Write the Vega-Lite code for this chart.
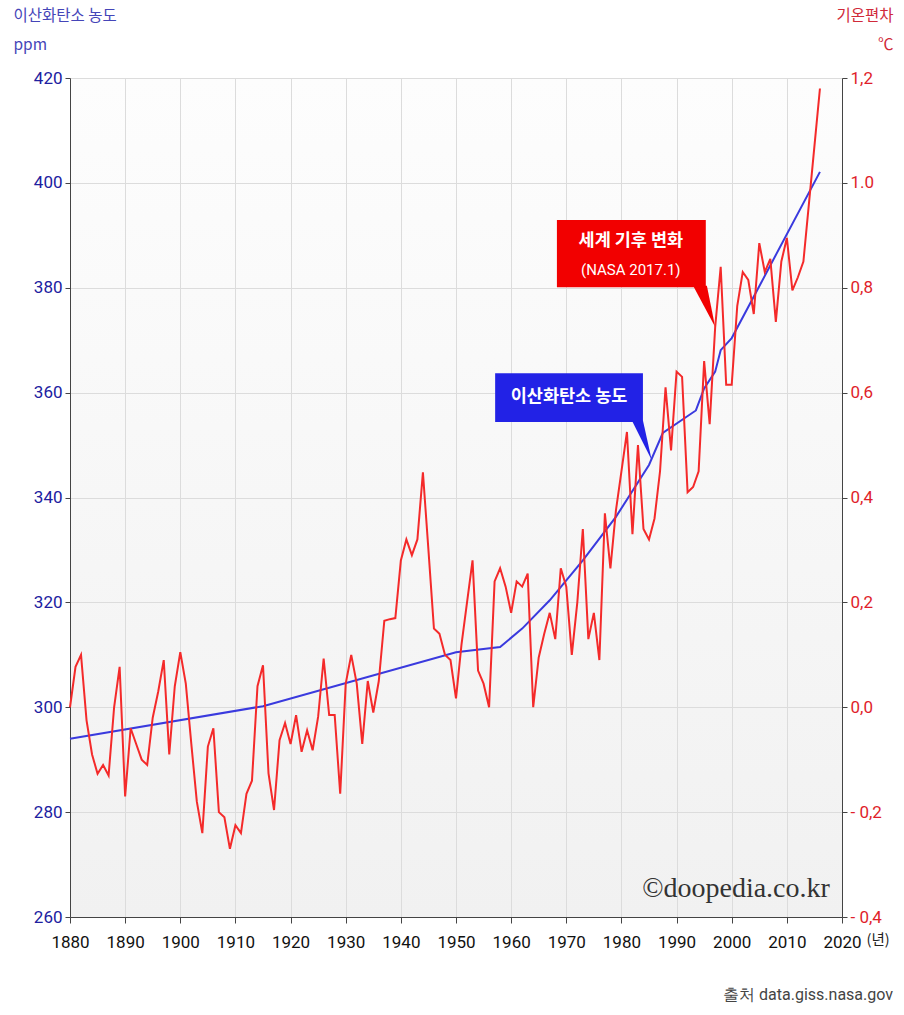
{
  "$schema": "https://vega.github.io/schema/vega-lite/v6.json",
  "autosize": {"type": "none"},
  "padding": {"left": 70, "top": 78, "right": 62, "bottom": 98},
  "width": 772,
  "height": 839,
  "background": "#ffffff",
  "view": {"stroke": null, "fill": {"gradient": "linear", "x1": 0, "y1": 0, "x2": 0, "y2": 1, "stops": [{"offset": 0, "color": "#fdfdfd"}, {"offset": 1, "color": "#f1f1f1"}]}},
  "datasets": {
    "temp": [
      {"year": 1880, "anom": 0.0}, {"year": 1881, "anom": 0.077}, {"year": 1882, "anom": 0.10}, {"year": 1883, "anom": -0.025},
      {"year": 1884, "anom": -0.09}, {"year": 1885, "anom": -0.127}, {"year": 1886, "anom": -0.11}, {"year": 1887, "anom": -0.13},
      {"year": 1888, "anom": 0.0}, {"year": 1889, "anom": 0.077}, {"year": 1890, "anom": -0.17}, {"year": 1891, "anom": -0.04},
      {"year": 1892, "anom": -0.07}, {"year": 1893, "anom": -0.10}, {"year": 1894, "anom": -0.11}, {"year": 1895, "anom": -0.02},
      {"year": 1896, "anom": 0.03}, {"year": 1897, "anom": 0.09}, {"year": 1898, "anom": -0.09}, {"year": 1899, "anom": 0.04},
      {"year": 1900, "anom": 0.105}, {"year": 1901, "anom": 0.045}, {"year": 1902, "anom": -0.07}, {"year": 1903, "anom": -0.18},
      {"year": 1904, "anom": -0.24}, {"year": 1905, "anom": -0.075}, {"year": 1906, "anom": -0.04}, {"year": 1907, "anom": -0.2},
      {"year": 1908, "anom": -0.21}, {"year": 1909, "anom": -0.27}, {"year": 1910, "anom": -0.225}, {"year": 1911, "anom": -0.24},
      {"year": 1912, "anom": -0.165}, {"year": 1913, "anom": -0.14}, {"year": 1914, "anom": 0.04}, {"year": 1915, "anom": 0.08},
      {"year": 1916, "anom": -0.126}, {"year": 1917, "anom": -0.196}, {"year": 1918, "anom": -0.063}, {"year": 1919, "anom": -0.03},
      {"year": 1920, "anom": -0.07}, {"year": 1921, "anom": -0.015}, {"year": 1922, "anom": -0.085}, {"year": 1923, "anom": -0.044},
      {"year": 1924, "anom": -0.082}, {"year": 1925, "anom": -0.018}, {"year": 1926, "anom": 0.093}, {"year": 1927, "anom": -0.015},
      {"year": 1928, "anom": -0.015}, {"year": 1929, "anom": -0.165}, {"year": 1930, "anom": 0.045}, {"year": 1931, "anom": 0.10},
      {"year": 1932, "anom": 0.045}, {"year": 1933, "anom": -0.07}, {"year": 1934, "anom": 0.05}, {"year": 1935, "anom": -0.01},
      {"year": 1936, "anom": 0.05}, {"year": 1937, "anom": 0.165}, {"year": 1938, "anom": 0.168}, {"year": 1939, "anom": 0.17},
      {"year": 1940, "anom": 0.28}, {"year": 1941, "anom": 0.32}, {"year": 1942, "anom": 0.29}, {"year": 1943, "anom": 0.32},
      {"year": 1944, "anom": 0.448}, {"year": 1945, "anom": 0.3}, {"year": 1946, "anom": 0.15}, {"year": 1947, "anom": 0.14},
      {"year": 1948, "anom": 0.10}, {"year": 1949, "anom": 0.09}, {"year": 1950, "anom": 0.017}, {"year": 1951, "anom": 0.12},
      {"year": 1952, "anom": 0.2}, {"year": 1953, "anom": 0.28}, {"year": 1954, "anom": 0.07}, {"year": 1955, "anom": 0.045},
      {"year": 1956, "anom": 0.0}, {"year": 1957, "anom": 0.24}, {"year": 1958, "anom": 0.265}, {"year": 1959, "anom": 0.23},
      {"year": 1960, "anom": 0.18}, {"year": 1961, "anom": 0.24}, {"year": 1962, "anom": 0.23}, {"year": 1963, "anom": 0.255},
      {"year": 1964, "anom": 0.0}, {"year": 1965, "anom": 0.095}, {"year": 1966, "anom": 0.14}, {"year": 1967, "anom": 0.18},
      {"year": 1968, "anom": 0.13}, {"year": 1969, "anom": 0.265}, {"year": 1970, "anom": 0.23}, {"year": 1971, "anom": 0.10},
      {"year": 1972, "anom": 0.20}, {"year": 1973, "anom": 0.34}, {"year": 1974, "anom": 0.13}, {"year": 1975, "anom": 0.18},
      {"year": 1976, "anom": 0.09}, {"year": 1977, "anom": 0.37}, {"year": 1978, "anom": 0.265}, {"year": 1979, "anom": 0.375},
      {"year": 1980, "anom": 0.45}, {"year": 1981, "anom": 0.525}, {"year": 1982, "anom": 0.33}, {"year": 1983, "anom": 0.5},
      {"year": 1984, "anom": 0.34}, {"year": 1985, "anom": 0.32}, {"year": 1986, "anom": 0.36}, {"year": 1987, "anom": 0.45},
      {"year": 1988, "anom": 0.61}, {"year": 1989, "anom": 0.49}, {"year": 1990, "anom": 0.64}, {"year": 1991, "anom": 0.63},
      {"year": 1992, "anom": 0.41}, {"year": 1993, "anom": 0.42}, {"year": 1994, "anom": 0.45}, {"year": 1995, "anom": 0.66},
      {"year": 1996, "anom": 0.54}, {"year": 1997, "anom": 0.725}, {"year": 1998, "anom": 0.84}, {"year": 1999, "anom": 0.615},
      {"year": 2000, "anom": 0.615}, {"year": 2001, "anom": 0.765}, {"year": 2002, "anom": 0.83}, {"year": 2003, "anom": 0.815},
      {"year": 2004, "anom": 0.75}, {"year": 2005, "anom": 0.885}, {"year": 2006, "anom": 0.83}, {"year": 2007, "anom": 0.855},
      {"year": 2008, "anom": 0.735}, {"year": 2009, "anom": 0.85}, {"year": 2010, "anom": 0.895}, {"year": 2011, "anom": 0.795},
      {"year": 2012, "anom": 0.82}, {"year": 2013, "anom": 0.85}, {"year": 2014, "anom": 0.96}, {"year": 2015, "anom": 1.07},
      {"year": 2016, "anom": 1.18}
    ],
    "co2": [
      {"year": 1880, "ppm": 294.0}, {"year": 1915, "ppm": 300.2}, {"year": 1950, "ppm": 310.5}, {"year": 1958, "ppm": 311.5},
      {"year": 1962, "ppm": 315.0}, {"year": 1967, "ppm": 320.4}, {"year": 1973, "ppm": 328.0}, {"year": 1979, "ppm": 336.3},
      {"year": 1985, "ppm": 346.2}, {"year": 1987.5, "ppm": 352.3}, {"year": 1993.5, "ppm": 356.6}, {"year": 1995, "ppm": 360.8},
      {"year": 1997, "ppm": 364.0}, {"year": 1998, "ppm": 368.1}, {"year": 2000, "ppm": 370.4}, {"year": 2016, "ppm": 402.1}
    ],
    "boxes": [
      {"year": 1968.3, "year2": 1995.3, "ppm": 392.9, "ppm2": 380.1, "kind": "red"},
      {"year": 1957.1, "year2": 1983.9, "ppm": 363.7, "ppm2": 354.4, "kind": "blue"}
    ],
    "redTail": [
      {"ppm": 380.4, "year": 1993.0, "year2": 1995.5},
      {"ppm": 372.5, "year": 1997.0, "year2": 1997.0}
    ],
    "blueTail": [
      {"ppm": 354.7, "year": 1981.9, "year2": 1983.9},
      {"ppm": 347.1, "year": 1985.5, "year2": 1985.5}
    ],
    "boxTitles": [
      {"year": 1981.7, "ppm": 389.0, "label": "세계 기후 변화"},
      {"year": 1970.5, "ppm": 359.1, "label": "이산화탄소 농도"}
    ],
    "boxSub": [
      {"year": 1981.7, "ppm": 383.4, "label": "(NASA  2017.1)"}
    ],
    "marks": [
      {"year": 2017.8, "ppm": 263.8, "label": "©doopedia.co.kr"}
    ],
    "source": [
      {"year": 2029.25, "ppm": 245.1, "label": "출처 data.giss.nasa.gov"}
    ]
  },
  "encoding": {
    "x": {"field": "year", "type": "quantitative",
      "scale": {"domain": [1880, 2020], "nice": false, "zero": false},
      "axis": {"values": [1880, 1890, 1900, 1910, 1920, 1930, 1940, 1950, 1960, 1970, 1980, 1990, 2000, 2010, 2020],
        "format": "d", "labelFont": "Roboto", "labelFontSize": 17,
        "labelColor": "#111111", "tickSize": 6, "tickColor": "#444444", "domainColor": "#444444", "labelPadding": 11,
        "grid": true, "gridColor": "#dcdcdc", "labelFlush": false,
        "title": "(년)", "titleFont": "Noto Sans CJK KR", "titleFontSize": 14.5,
        "titleFontWeight": "normal", "titleColor": "#222222", "titleAlign": "left", "titleBaseline": "top",
        "titleX": 796, "titleY": 16, "titleAngle": 0}}
  },
  "layer": [
    {
      "layer": [
        {
          "data": {"name": "co2"},
          "mark": {"type": "line", "color": "#3a3ade", "strokeWidth": 2},
          "encoding": {
            "y": {"field": "ppm", "type": "quantitative",
              "scale": {"domain": [260, 420], "nice": false, "zero": false},
              "axis": {"values": [260, 280, 300, 320, 340, 360, 380, 400, 420], "orient": "left",
                "labelFont": "Roboto", "labelFontSize": 17,
                "labelColor": "#2020a0", "tickSize": 5, "tickColor": "#444444", "domainColor": "#444444", "labelPadding": 3,
                "grid": true, "gridColor": "#dcdcdc", "labelFlush": false,
                "title": ["이산화탄소 농도", "ppm"], "titleFont": "Noto Sans CJK KR", "titleFontSize": 15.5,
                "titleFontWeight": "normal", "titleColor": "#4545b8", "titleAlign": "left", "titleBaseline": "top",
                "titleAngle": 0, "titleX": -57, "titleY": -70, "titleLineHeight": 29}}
          }
        },
        {
          "data": {"name": "boxes"},
          "mark": {"type": "rect"},
          "encoding": {
            "x2": {"field": "year2"},
            "y": {"field": "ppm", "type": "quantitative"},
            "y2": {"field": "ppm2"},
            "color": {"field": "kind", "type": "nominal", "scale": {"domain": ["red", "blue"], "range": ["#f20000", "#2222e6"]}, "legend": null}
          }
        },
        {
          "data": {"name": "redTail"},
          "mark": {"type": "area", "orient": "horizontal", "color": "#f20000"},
          "encoding": {
            "y": {"field": "ppm", "type": "quantitative"},
            "x2": {"field": "year2"}
          }
        },
        {
          "data": {"name": "blueTail"},
          "mark": {"type": "area", "orient": "horizontal", "color": "#2222e6"},
          "encoding": {
            "y": {"field": "ppm", "type": "quantitative"},
            "x2": {"field": "year2"}
          }
        },
        {
          "data": {"name": "boxTitles"},
          "mark": {"type": "text", "color": "#ffffff", "font": "Noto Sans CJK KR", "fontSize": 17.5, "fontWeight": "bold", "align": "center", "baseline": "middle"},
          "encoding": {
            "y": {"field": "ppm", "type": "quantitative"},
            "text": {"field": "label"}
          }
        },
        {
          "data": {"name": "boxSub"},
          "mark": {"type": "text", "color": "#ffffff", "font": "Roboto", "fontSize": 15, "align": "center", "baseline": "middle"},
          "encoding": {
            "y": {"field": "ppm", "type": "quantitative"},
            "text": {"field": "label"}
          }
        },
        {
          "data": {"name": "marks"},
          "mark": {"type": "text", "color": "#333333", "font": "Liberation Serif", "fontSize": 28, "align": "right", "baseline": "alphabetic"},
          "encoding": {
            "y": {"field": "ppm", "type": "quantitative"},
            "text": {"field": "label"}
          }
        },
        {
          "data": {"name": "source"},
          "mark": {"type": "text", "color": "#444444", "font": "Roboto", "fontSize": 16, "align": "right", "baseline": "middle"},
          "encoding": {
            "y": {"field": "ppm", "type": "quantitative"},
            "text": {"field": "label"}
          }
        }
      ]
    },
    {
      "data": {"name": "temp"},
      "mark": {"type": "line", "color": "#f42a2a", "strokeWidth": 2},
      "encoding": {
        "y": {"field": "anom", "type": "quantitative",
          "scale": {"domain": [-0.4, 1.2], "nice": false, "zero": false},
          "axis": {"orient": "right", "values": [-0.4, -0.2, 0, 0.2, 0.4, 0.6, 0.8, 1, 1.2],
            "labelExpr": "datum.value == 1 ? '1.0' : (datum.value < 0 ? '- ' : '') + replace(format(abs(datum.value), '.1f'), '.', ',')",
            "labelFont": "Roboto", "labelFontSize": 17,
            "labelColor": "#e01e2a", "tickSize": 5, "tickColor": "#444444", "domainColor": "#444444", "labelPadding": 3,
            "grid": false, "labelFlush": false,
            "title": ["기온편차", "℃"], "titleFont": "Noto Sans CJK KR", "titleFontSize": 15.5,
            "titleFontWeight": "normal", "titleColor": "#d02a3a", "titleAlign": "right", "titleBaseline": "top",
            "titleAngle": 0, "titleX": 51, "titleY": -70, "titleLineHeight": 29}}
      }
    }
  ],
  "resolve": {"scale": {"y": "independent"}}
}
